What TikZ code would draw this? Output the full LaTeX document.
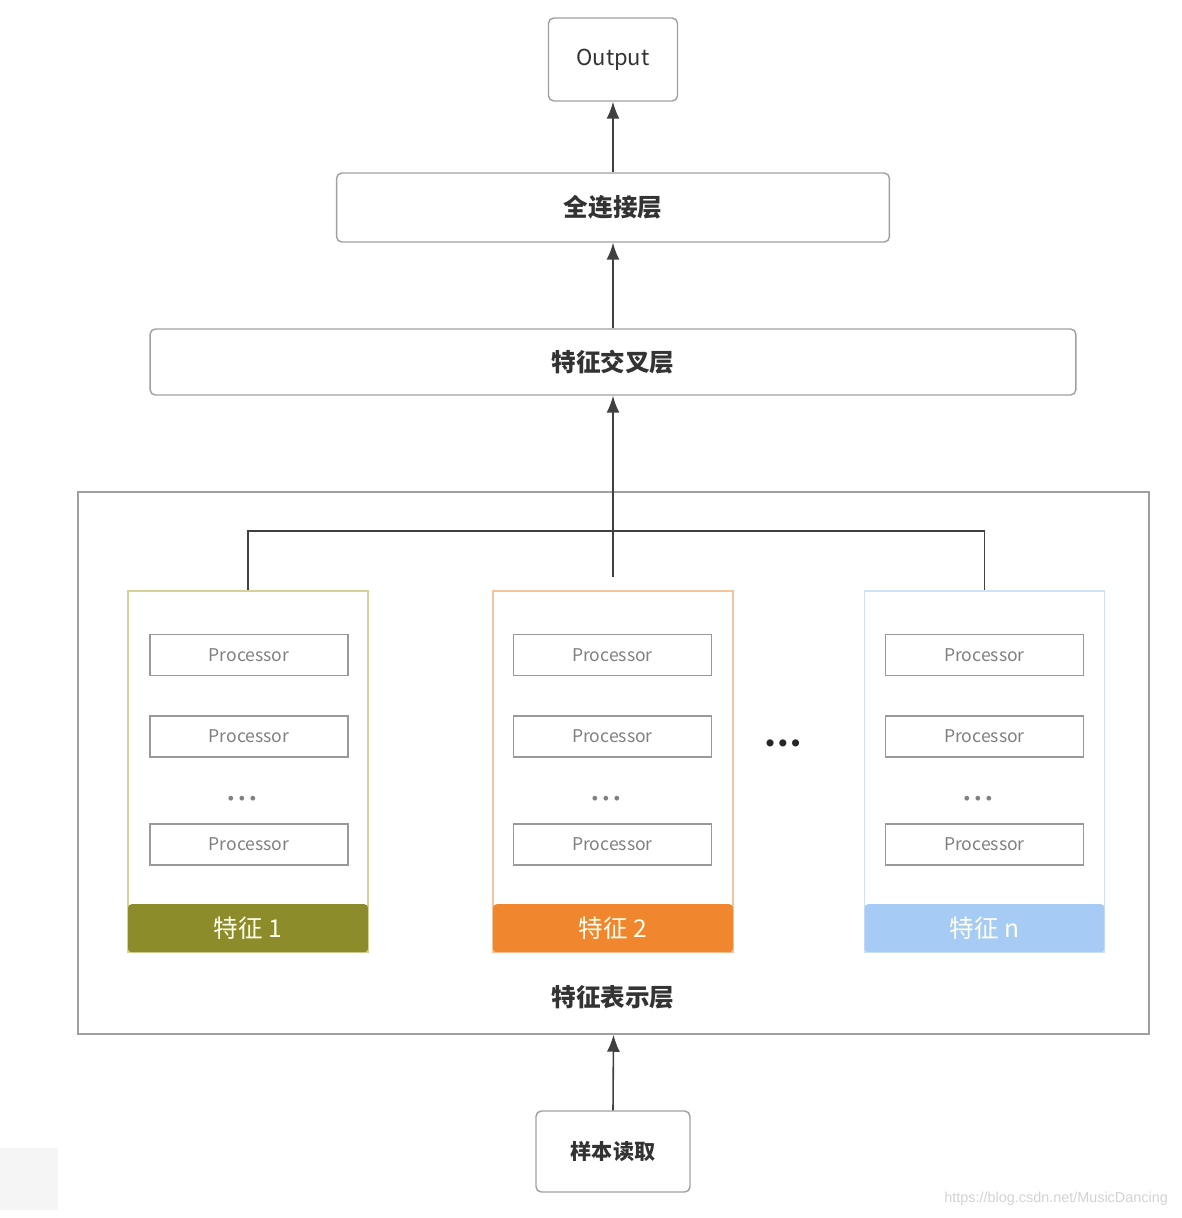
\documentclass[tikz,border=0pt]{standalone}
\usepackage{fontspec}
\setmainfont{Noto Sans CJK SC}
\newfontfamily\webfont{Liberation Sans}
\usepackage{tikz}
\usetikzlibrary{positioning,arrows.meta}

\definecolor{olivebar}{RGB}{140,140,42}
\definecolor{oliveline}{RGB}{212,210,150}
\definecolor{orangebar}{RGB}{240,134,46}
\definecolor{orangeline}{RGB}{245,196,155}
\definecolor{bluebar}{RGB}{166,204,245}
\definecolor{blueline}{RGB}{205,225,247}

\tikzset{
	layer/.style={rectangle, draw=gray!75, line width=0.8pt, rounded corners=3pt, text=black!80, font=\bfseries\fontsize{14}{16}\selectfont},
	proc/.style={rectangle, draw=gray!80, line width=0.8pt, minimum width=3.96cm, minimum height=0.82cm, text=gray, font=\fontsize{10}{12}\selectfont},
	feat/.style={rectangle, line width=0.7pt, minimum width=4.8cm, minimum height=7.22cm},
	band/.style={rectangle, anchor=south, minimum width=4.8cm, minimum height=0.96cm, rounded corners=2pt, text=white!92!yellow, font=\fontsize{14}{16}\selectfont},
	dots/.style={text=gray, font=\webfont\fontsize{10}{10}\selectfont},
	link/.style={draw=black!75, line width=0.9pt},
	up/.style={link, -{Latex[length=3.4mm, width=2.6mm]}},
}

\begin{document}
\begin{tikzpicture}[x=0.02cm, y=-0.02cm]
		\useasboundingbox (0,0) rectangle (1182,1218);
		\fill[gray!8] (0,1148) rectangle (58,1210);
		
		\node [layer, minimum width=2.58cm, minimum height=1.66cm, font=\fontsize{12.5}{15}\selectfont] (out) at (613,59.5) {Output};
		\node [layer, minimum width=11.06cm, minimum height=1.38cm] (fc) at (613,207.5) {全连接层};
		\node [layer, minimum width=18.52cm, minimum height=1.32cm] (cross) at (613,362) {特征交叉层};
		
		\node [rectangle, draw=gray!75, line width=0.9pt, minimum width=21.42cm, minimum height=10.84cm] (repr) at (613.5,763) {};
		\node [text=black!80, font=\bfseries\fontsize{14}{16}\selectfont] (reprt) at (613,997) {特征表示层};
		
		% feature columns
		\node [feat, draw=oliveline] (f1) at (248,771.5) {};
		\node [feat, draw=orangeline] (f2) at (613,771.5) {};
		\node [feat, draw=blueline] (f3) at (984.5,771.5) {};
		
		\node [band, fill=olivebar] (b1) at (f1.south) {特征 1};
		\node [band, fill=orangebar] (b2) at (f2.south) {特征 2};
		\node [band, fill=bluebar] (b3) at (f3.south) {特征 n};
		
		\node [proc] (p11) at (249,655) {Processor};
		\node [proc] (p12) at (249,736.5) {Processor};
		\node [dots] (d1) at (242,800) {• • •};
		\node [proc] (p13) at (249,844.5) {Processor};
		
		\node [proc] (p21) at (612.5,655) {Processor};
		\node [proc] (p22) at (612.5,736.5) {Processor};
		\node [dots] (d2) at (606,800) {• • •};
		\node [proc] (p23) at (612.5,844.5) {Processor};
		
		\node [proc] (p31) at (984.5,655) {Processor};
		\node [proc] (p32) at (984.5,736.5) {Processor};
		\node [dots] (d3) at (978,800) {• • •};
		\node [proc] (p33) at (984.5,844.5) {Processor};
		
		\node [text=black!85, font=\webfont\bfseries\fontsize{14}{14}\selectfont] (more) at (783,746) {•\,•\,•};
		
		\node [layer, minimum width=3.08cm, minimum height=1.62cm, font=\bfseries\fontsize{12}{14}\selectfont] (read) at (613,1151.5) {样本读取};
		
		\coordinate (join) at (613,531);
		\coordinate (tap) at (613,577);
		
		\draw [link] (f1.north) |- (join) -| (f3.north);
		\draw [up] (tap) -- (cross.south);
		\draw [up] (cross.north) -- (fc.south);
		\draw [up] (fc.north) -- (out.south);
		\draw [up] (read.north) -- (repr.south);
		
		\node [anchor=east, text=gray!35, font=\webfont\fontsize{8.2}{10}\selectfont] (mark) at (1174,1199) {https://blog.csdn.net/MusicDancing};
	\end{tikzpicture}
\end{document}
